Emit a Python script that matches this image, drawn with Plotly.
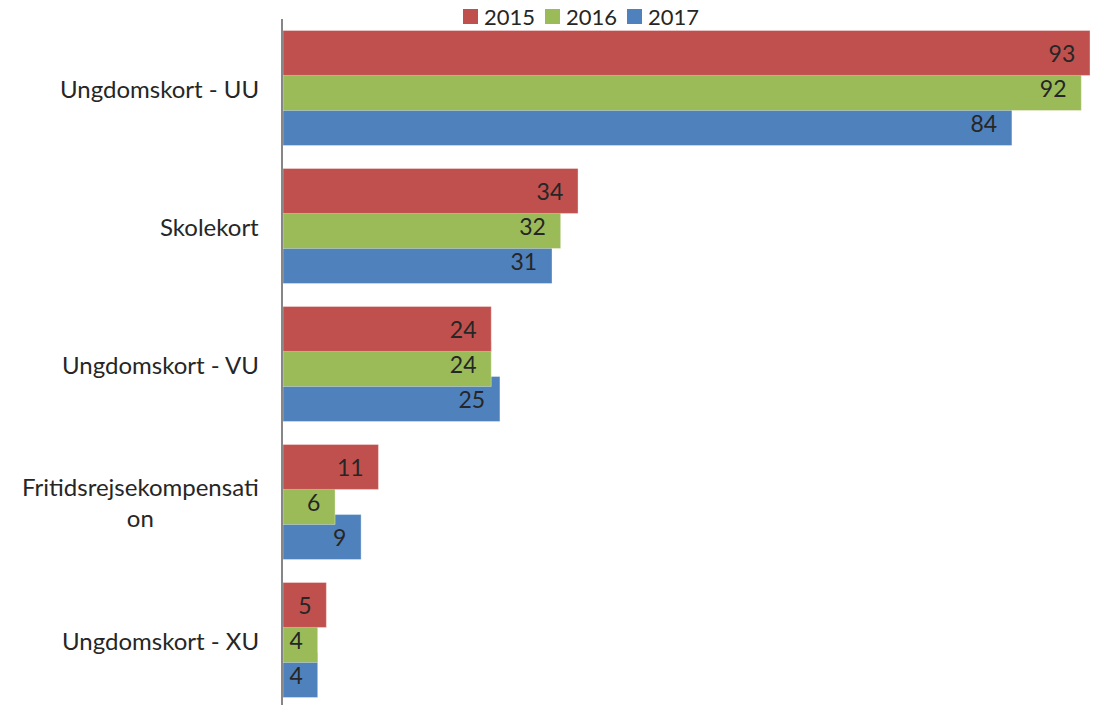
import plotly.graph_objects as go

# categories (top to bottom) and yearly values
categories = ["Ungdomskort - UU", "Skolekort", "Ungdomskort - VU",
              "Fritidsrejsekompensation", "Ungdomskort - XU"]
category_labels = ["Ungdomskort - UU", "Skolekort", "Ungdomskort - VU",
                   "Fritidsrejsekompensati<br>on", "Ungdomskort - XU"]
years = ["2015", "2016", "2017"]
values_2015 = [93, 34, 24, 11, 5]
values_2016 = [92, 32, 24, 6, 4]
values_2017 = [84, 31, 25, 9, 4]

colors = {"2015": "#C0504D", "2016": "#9BBB59", "2017": "#4F81BD"}
offsets = {"2015": -0.417, "2016": -0.163, "2017": 0.091}
series = {"2015": values_2015, "2016": values_2016, "2017": values_2017}

FONT = "Lato"
TEXT_COLOR = "#262626"

# plot area in pixels
PLOT_L, PLOT_T, PLOT_W, PLOT_H = 283, 19, 811, 686


def px_x(x):
    return (x - PLOT_L) / PLOT_W


def px_y(y):
    return 1 - (y - PLOT_T) / PLOT_H


fig = go.Figure()

# draw 2017 first so that 2015 ends up on top (overlapping bars)
for year in reversed(years):
    fig.add_trace(go.Bar(
        name=year,
        y=categories,
        x=series[year],
        orientation="h",
        width=0.326,
        offset=offsets[year],
        marker=dict(color=colors[year], line=dict(color="rgba(255,255,255,0.35)", width=1)),
        texttemplate="%{x}\u00a0\u00a0",
        textposition="inside",
        insidetextanchor="end",
        textangle=0,
        constraintext="none",
        insidetextfont=dict(family=FONT, size=23, color=TEXT_COLOR),
        showlegend=False,
        hoverinfo="x+name",
    ))

# category labels, centred like the wrapped labels in the source
for cat, lab in zip(categories, category_labels):
    fig.add_annotation(
        x=0, xref="paper", y=cat, yref="y",
        text=lab, showarrow=False, xanchor="right", yanchor="middle",
        xshift=-22, align="center",
        font=dict(family=FONT, size=24, color=TEXT_COLOR),
    )

# legend row along the top edge
for i, year in enumerate(years):
    x0 = 463 + 82 * i
    fig.add_shape(
        type="rect", xref="paper", yref="paper",
        x0=px_x(x0), x1=px_x(x0 + 15), y0=px_y(24), y1=px_y(9),
        fillcolor=colors[year], line=dict(width=0),
    )
    fig.add_annotation(
        x=px_x(x0 + 19), xref="paper", y=px_y(16), yref="paper",
        text=year, showarrow=False, xanchor="left", yanchor="middle",
        font=dict(family=FONT, size=22, color=TEXT_COLOR),
    )

fig.update_layout(
    width=1094, height=705,
    margin=dict(l=PLOT_L, r=0, t=PLOT_T, b=0, autoexpand=False),
    barmode="overlay",
    plot_bgcolor="white",
    paper_bgcolor="white",
    font=dict(family=FONT, size=22, color=TEXT_COLOR),
    showlegend=False,
    xaxis=dict(range=[0, 93.46], showgrid=False, zeroline=False,
               showticklabels=False, showline=False),
    yaxis=dict(type="category", categoryorder="array", categoryarray=categories,
               range=[4.471, -0.5], showgrid=False, zeroline=False,
               showticklabels=False, showline=True, linecolor="#868686", linewidth=2),
)

# drop the default page margin so the figure fills the window
fig.write_html("out.html", config={"displayModeBar": False},
               post_script="document.body.style.margin = '0';")
